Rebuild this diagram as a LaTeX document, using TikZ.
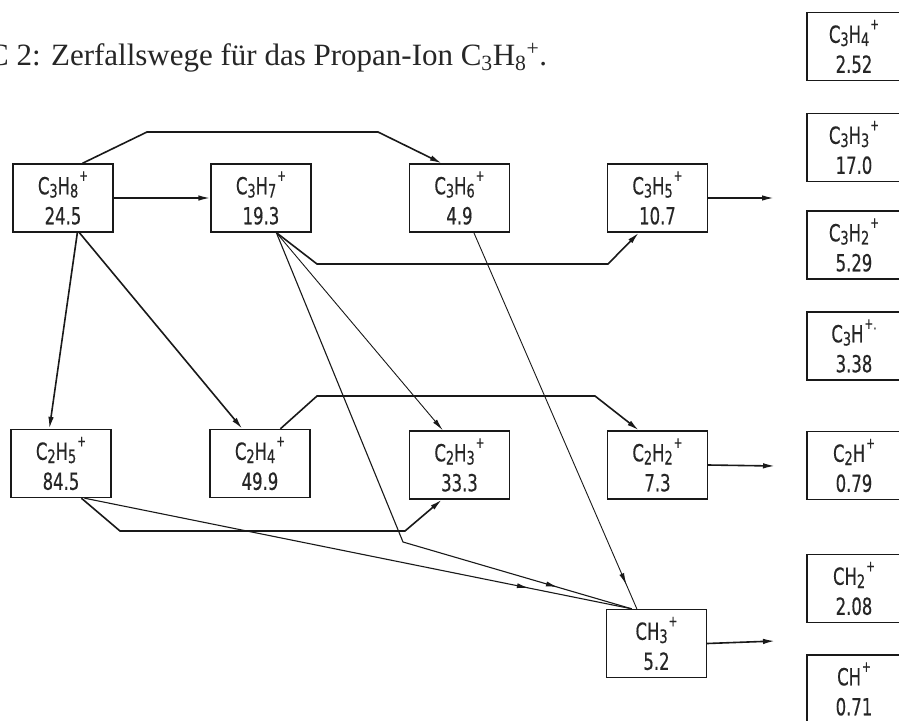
\documentclass[tikz,border=0pt]{standalone}
\usepackage{fontspec}
\setmainfont{Liberation Serif}
\newfontfamily\dinf[FakeStretch=0.7,FakeBold=0.4]{DejaVu Sans}
\usetikzlibrary{arrows.meta,decorations.markings}
\newcommand\lo[1]{\raisebox{-0.25ex}{\fontsize{18.5}{18.5}\selectfont #1}}
\newcommand\pl{\kern1pt\raisebox{1.05ex}{\fontsize{15}{15}\selectfont +}}
\tikzset{
  box/.style={draw=black!90, line width=1.3pt, minimum width=100pt, minimum height=68pt,
    inner sep=0pt, align=center, font=\dinf\fontsize{23.5}{30}\selectfont, text=black!85},
  rbox/.style={box, minimum width=94pt},
  conn/.style={draw=black!90, line width=1.6pt, -{Latex[length=12pt,width=5.5pt]}},
  thinconn/.style={draw=black!90, line width=0.9pt},
  midarrow/.style={postaction={decorate}, decoration={markings,
    mark=at position #1 with {\arrow{Latex[length=12pt,width=5pt]}}}},
}
\begin{document}
\begin{tikzpicture}[x=1pt,y=-1pt]
\useasboundingbox (0,0) rectangle (899,720);
\clip (0,0) rectangle (899,720);
\fill[white] (0,0) rectangle (899,720);

% title
\node[anchor=base west, inner sep=0pt, font=\fontsize{31}{36}\selectfont, text=black!85] (title) at (-12,65)
  {C 2: Zerfallswege für das Propan-Ion C\textsubscript{3}H\textsubscript{8}\textsuperscript{+}.};

% main boxes
\node[box] (a8) at (63,198) {C\lo{3}H\lo{8}\pl\\24.5};
\node[box] (a7) at (261,198) {C\lo{3}H\lo{7}\pl\\19.3};
\node[box] (a6) at (459.5,198) {C\lo{3}H\lo{6}\pl\\4.9};
\node[box] (a5) at (657.5,198) {C\lo{3}H\lo{5}\pl\\10.7};
\node[box] (b5) at (61,463.5) {C\lo{2}H\lo{5}\pl\\84.5};
\node[box] (b4) at (260,463.5) {C\lo{2}H\lo{4}\pl\\49.9};
\node[box] (b3) at (459.5,465) {C\lo{2}H\lo{3}\pl\\33.3};
\node[box] (b2) at (657.5,465) {C\lo{2}H\lo{2}\pl\\7.3};
\node[box] (m3) at (656.5,643.5) {CH\lo{3}\pl\\5.2};

% right column
\node[rbox] (r1) at (854,46.5) {C\lo{3}H\lo{4}\pl\\2.52};
\node[rbox] (r2) at (854,147.5) {C\lo{3}H\lo{3}\pl\\17.0};
\node[rbox] (r3) at (854,245) {C\lo{3}H\lo{2}\pl\\5.29};
\node[rbox] (r4) at (854,346) {C\lo{3}H\pl{\fontsize{15}{15}\selectfont\raisebox{1.05ex}{·}}\\3.38};
\node[rbox] (r5) at (854,465.5) {C\lo{2}H\pl\\0.79};
\node[rbox] (r6) at (854,588.5) {CH\lo{2}\pl\\2.08};
\node[rbox] (r7) at (854,689) {CH\pl\\0.71};

% exit ends
\coordinate (e5) at (774,198);
\coordinate (e2) at (775,466);
\coordinate (e3) at (775,641);

% connectors
\draw[conn] (a8) -- (a7);
\draw[conn] ([xshift=70pt]a8.north west) -- (147,132) -- (378,132) -- ([xshift=33pt]a6.north west);
\draw[conn] ([xshift=65pt]a8.south west) -- ([xshift=39pt]b5.north west);
\draw[conn] ([xshift=67pt]a8.south west) -- ([xshift=33pt]b4.north west);
\draw[conn] ([xshift=66pt]a7.south west) -- (317,264) -- (608,264) -- ([xshift=32pt]a5.south west);
\draw[thinconn, -{Latex[length=12pt,width=5pt]}] ([xshift=66pt]a7.south west) -- ([xshift=34pt]b3.north west);
\draw[thinconn, line width=1.1pt, midarrow=-77pt] ([xshift=66pt]a7.south west) -- (403,542) -- ([xshift=26pt]m3.north west);
\draw[thinconn, midarrow=-26pt] ([xshift=65pt]a6.south west) -- ([xshift=31pt]m3.north west);
\draw[conn] ([xshift=71pt]b4.north west) -- (317,396) -- (595,396) -- ([xshift=32pt]b2.north west);
\draw[conn] ([xshift=71pt]b5.south west) -- (120,531) -- (405,531) -- ([xshift=33pt]b3.south west);
\draw[thinconn, line width=1.1pt, midarrow=-105pt] ([xshift=74pt]b5.south west) -- ([xshift=26pt]m3.north west);

\draw[conn] (a5.east) -- (e5);
\draw[conn] (b2.east) -- (e2);
\draw[conn] (m3.east) -- (e3);
\end{tikzpicture}
\end{document}
